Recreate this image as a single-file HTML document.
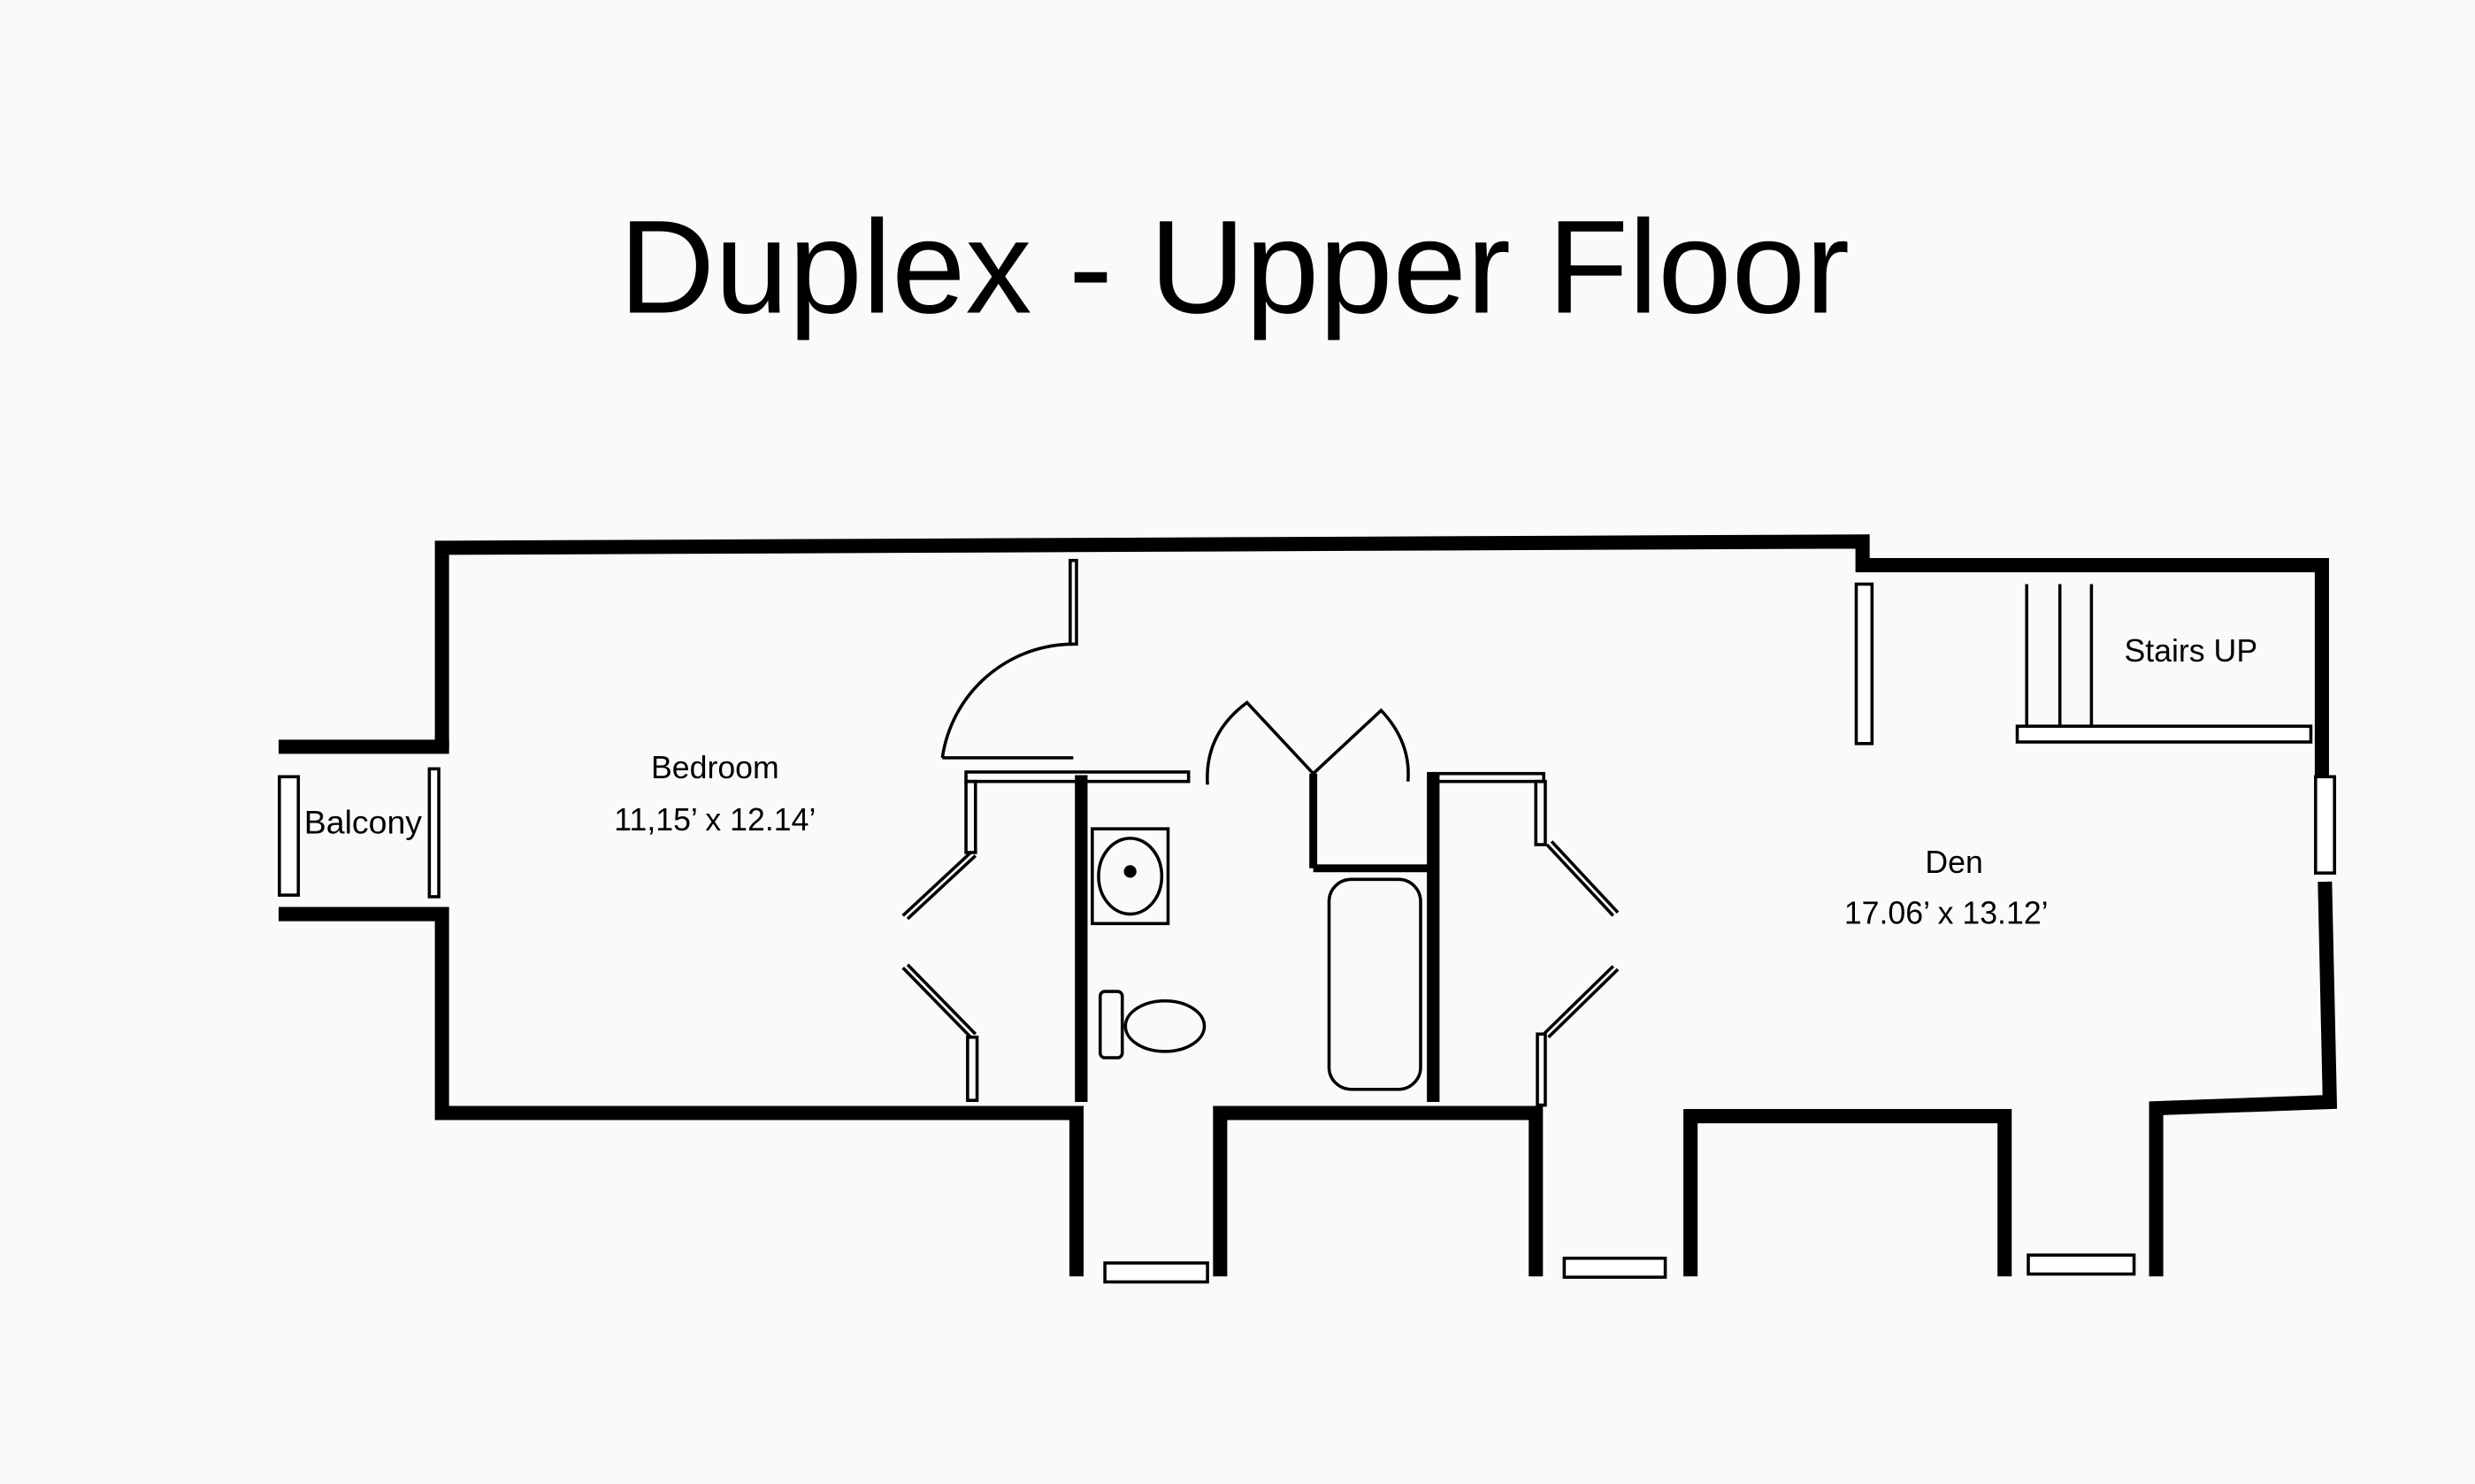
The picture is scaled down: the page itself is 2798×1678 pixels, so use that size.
<!DOCTYPE html>
<html><head><meta charset="utf-8"><style>
html,body{margin:0;padding:0;background:#fbfaf9;}
svg{display:block}
text{font-family:"Liberation Sans",sans-serif;fill:#000}
</style></head><body>
<svg width="2798" height="1678" viewBox="0 0 1568 940" preserveAspectRatio="none" xmlns="http://www.w3.org/2000/svg">
<rect width="1568" height="940" fill="#fbfaf9"/>
<text x="782" y="198" font-size="84" text-anchor="middle">Duplex - Upper Floor</text>
<g stroke="#000" stroke-width="9" fill="none" stroke-linecap="square">
<polyline points="280,470 280,347 1180,343 1180,358 1471,358 1471,488"/>
<polyline points="181,473 280,473"/>
<polyline points="181,579 280,579 280,705 682,705 682,804"/>
<polyline points="773,804 773,705 973,705 973,804"/>
<polyline points="1071,804 1071,707 1270,707 1270,804"/>
<polyline points="1366,804 1366,702 1476,698 1473,563"/>
</g>
<g stroke="#000" stroke-width="2" fill="#fff">
<rect x="177" y="492" width="12" height="75"/>
<rect x="1467" y="492" width="12" height="61"/>
<rect x="700" y="800" width="65" height="12"/>
<rect x="991" y="797" width="64" height="12"/>
<rect x="1285" y="795" width="67" height="12"/>
<rect x="1176" y="370" width="10" height="101"/>
<rect x="1278" y="460" width="186" height="10"/>
<rect x="272" y="487" width="6" height="81"/>
</g>
<g stroke="#000" stroke-width="2" fill="none">
<line x1="1284" y1="370" x2="1284" y2="460"/><line x1="1305" y1="370" x2="1305" y2="460"/><line x1="1325" y1="370" x2="1325" y2="460"/>
<rect x="678" y="355" width="4" height="53"/>
<path d="M680,408 A84,84 0 0 0 597,480"/>
<line x1="597" y1="480" x2="680" y2="480"/>
<rect x="612" y="489" width="141" height="6"/>
<rect x="612" y="495" width="6" height="45"/>
<line x1="615" y1="540" x2="572" y2="580"/><line x1="618" y1="542" x2="575" y2="582"/>
<line x1="572" y1="613" x2="615" y2="657"/><line x1="575" y1="611" x2="618" y2="655"/>
<rect x="613" y="657" width="6" height="40"/>
<rect x="682" y="492" width="6" height="205" fill="#000"/>
<rect x="905" y="490" width="6" height="207" fill="#000"/>
<rect x="908" y="490" width="70" height="5"/>
<rect x="973" y="495" width="6" height="40"/>
<line x1="980" y1="535" x2="1022" y2="580"/><line x1="983" y1="533" x2="1025" y2="578"/>
<line x1="1022" y1="612" x2="978" y2="655"/><line x1="1025" y1="614" x2="981" y2="657"/>
<rect x="974" y="655" width="5" height="45"/>
<path d="M765,497 Q763,465 790,445 L832,490 L875,450 Q894,470 892,495"/>
<line x1="832" y1="490" x2="832" y2="550" stroke-width="5"/>
<line x1="832" y1="550" x2="908" y2="550" stroke-width="5"/>
<rect x="842" y="557" width="58" height="133" rx="14"/>
<rect x="692" y="525" width="48" height="60"/>
<ellipse cx="716" cy="555" rx="20" ry="24"/>
<circle cx="716" cy="552" r="3" fill="#000"/>
<rect x="697" y="628" width="14" height="42" rx="3"/>
<ellipse cx="738" cy="650" rx="25" ry="16"/>
</g>
<text x="453" y="493" font-size="20" text-anchor="middle">Bedroom</text>
<text x="453" y="526" font-size="20" text-anchor="middle">11,15’ x 12.14’</text>
<text x="230" y="528" font-size="21" text-anchor="middle">Balcony</text>
<text x="1238" y="553" font-size="20" text-anchor="middle">Den</text>
<text x="1233" y="585" font-size="20" text-anchor="middle">17.06’ x 13.12’</text>
<text x="1388" y="419" font-size="20" text-anchor="middle">Stairs UP</text>
</svg>
</body></html>
